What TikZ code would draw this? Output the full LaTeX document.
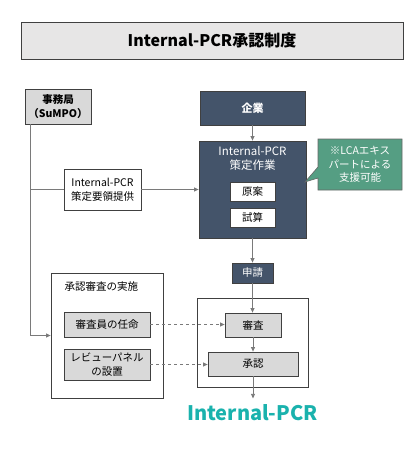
\documentclass[tikz,border=0pt]{standalone}
\usepackage{fontspec}
\setmainfont{Noto Sans CJK JP}
\usetikzlibrary{arrows.meta}
\definecolor{navy}{HTML}{44546A}
\definecolor{callgreen}{HTML}{559E83}
\definecolor{pcrteal}{HTML}{1AB2AD}
\definecolor{lightgray}{HTML}{D9D9D9}
\definecolor{titlegray}{HTML}{E7E6E6}
\definecolor{linegray}{HTML}{7A7A7A}

\tikzset{
    box/.style={draw=black!75, line width=0.8pt, inner sep=0pt, align=center,
        font=\fontsize{10.5}{14}\selectfont},
    graybox/.style={box, fill=lightgray},
    darkbox/.style={box, fill=navy, text=white},
    whitebox/.style={box, fill=white},
    arr/.style={draw=linegray, line width=0.8pt, -{Triangle[length=4.5pt,width=4pt]}},
    line/.style={draw=linegray, line width=0.8pt},
    dasharr/.style={arr, dashed}
}

\begin{document}
\begin{tikzpicture}[x=1pt, y=-1pt]
    \useasboundingbox (0,0) rectangle (420,450);

    \node[box, fill=titlegray, minimum width=382, minimum height=37,
        font=\fontsize{16}{18}\selectfont\bfseries](title)  at (212,40.5) {Internal-PCR承認制度};

    \node[graybox, minimum width=66, minimum height=35,
        font=\fontsize{10.5}{14}\selectfont\bfseries](jimu)  at (58,106.5) {事務局\\（SuMPO）};
    \node[whitebox, minimum width=77, minimum height=41](youryou)  at (102.5,189.5) {Internal-PCR\\策定要領提供};

    \node[darkbox, minimum width=105, minimum height=34,
        font=\fontsize{11}{14}\selectfont\bfseries](kigyo)     at (252.5,108) {企業};
    \node[darkbox, minimum width=107, minimum height=97](sakutei)  at (252.5,189.5) {};
    \node[text=white, align=center, font=\fontsize{11.5}{14}\selectfont](sakuteitxt)
                                                                at (252.5,158) {Internal-PCR\\策定作業};
    \node[whitebox, minimum width=45, minimum height=19](genan)    at (252.5,191.5) {原案};
    \node[whitebox, minimum width=45, minimum height=19](shisan)   at (252.5,217.5) {試算};

    % Sprechblase
    \path[fill=callgreen, draw=black!60, line width=0.6pt]
        (318,139) -- (402,139) -- (402,190) -- (318,190) -- (318,178)
        -- (305,182) -- (318,167) -- cycle;
    \node[text=white, align=center, font=\fontsize{10.5}{13.5}\selectfont](hinweis)
                                                                at (360,164.5) {※LCAエキス\\パートによる\\支援可能};

    \node[darkbox, minimum width=41, minimum height=20](shinsei)   at (252.5,273) {申請};

    \node[box, minimum width=111, minimum height=89](rechts)      at (252.5,342.5) {};
    \node[graybox, minimum width=56, minimum height=24](shinsa)    at (253,325) {審査};
    \node[graybox, minimum width=90, minimum height=24](shounin)   at (253,364) {承認};

    \node[box, minimum width=112, minimum height=125](jisshi)     at (107,335.5) {};
    \node[anchor=west, font=\fontsize{10.5}{13}\selectfont](jisshitxt) at (61,287) {承認審査の実施};
    \node[graybox, minimum width=86, minimum height=25](ninmei)    at (107,324.5) {審査員の任命};
    \node[graybox, minimum width=86, minimum height=31](panel)     at (107,364.5) {レビューパネル\\の設置};

    \node[text=pcrteal, inner sep=0pt, anchor=north,
        font=\fontsize{20}{22}\selectfont\bfseries](ergebnis)     at (252.5,404) {Internal-PCR};

    \coordinate (stamm) at (30,189.5);

    \draw[line] (jimu.south -| stamm) -- (stamm);
    \draw[arr]  (stamm) |- (jisshi.west);
    \draw[line] (stamm) -- (youryou.west);
    \draw[arr]  (youryou.east) -- (sakutei.west);
    \draw[arr]  (kigyo.south) -- (sakutei.north);
    \draw[arr]  (sakutei.south) -- (shinsei.north);
    \draw[arr]  (shinsei.south) -- (shinsa.north -| shinsei.south);
    \draw[arr]  (shinsa.south) -- (shounin.north);
    \draw[arr]  (shounin.south) -- ++(0,22);
    \draw[dasharr] (ninmei.east) -- (ninmei.east -| shinsa.west);
    \draw[dasharr] (panel.east) -- (panel.east -| shounin.west);
\end{tikzpicture}
\end{document}
